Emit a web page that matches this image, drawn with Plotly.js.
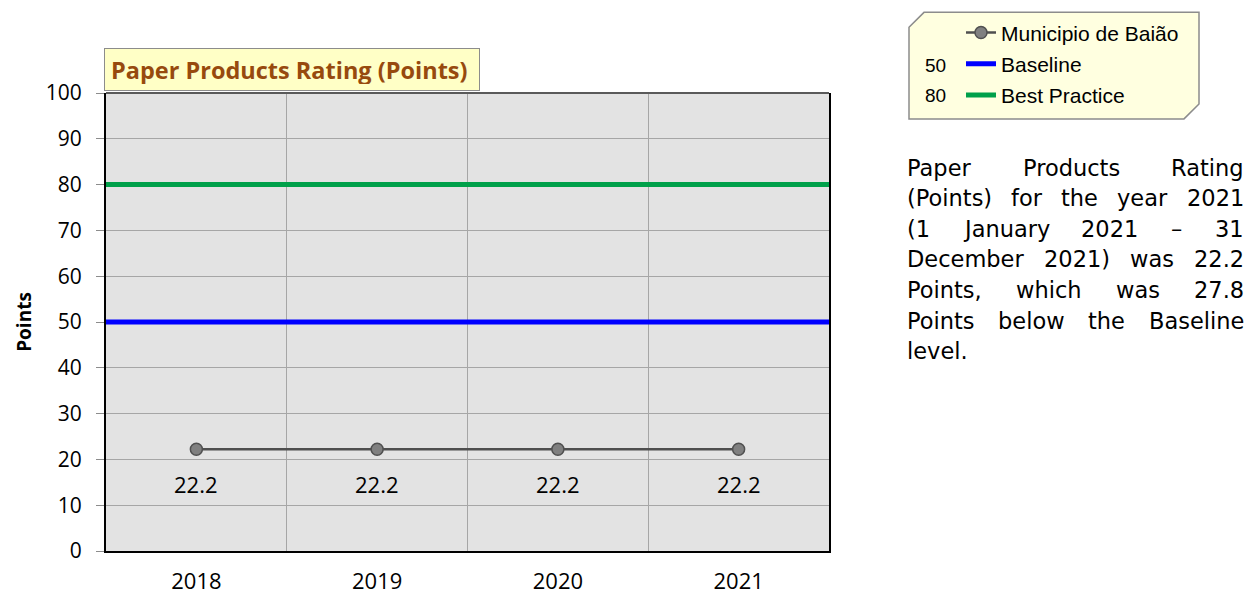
<!DOCTYPE html>
<html><head><meta charset="utf-8">
<script src="https://cdn.plot.ly/plotly-3.0.1.min.js"></script>
<style>html,body{margin:0;padding:0;background:#fff}#chart{width:1247px;height:596px}</style>
</head><body><div id="chart"></div>
<script>
// ---- data ----
const years = ['2018', '2019', '2020', '2021'];
const municipio = [22.2, 22.2, 22.2, 22.2];
const baseline = 50;
const bestPractice = 80;
const seriesName = 'Municipio de Baião';
const baselineName = 'Baseline';
const bestName = 'Best Practice';
const chartTitle = 'Paper Products Rating (Points)';
const yTickVals = [0, 10, 20, 30, 40, 50, 60, 70, 80, 90, 100];
const yTitle = 'Points';

const lastYear = years[years.length - 1];
const lastVal = municipio[municipio.length - 1];
const diff = (baseline - lastVal).toFixed(1);
const paragraphLines = [
  'Paper Products Rating',
  '(Points) for the year ' + lastYear,
  '(1 January ' + lastYear + ' – 31',
  'December ' + lastYear + ') was ' + lastVal.toFixed(1),
  'Points, which was ' + diff,
  'Points below the Baseline',
  'level.'
];

// ---- geometry helpers (layout only) ----
const L = 106, R = 829, T = 91, B = 551;
const px = x => (x - L) / (R - L);
const py = y => (B - y) / (B - T);
const idx = years.map((_, i) => i);
const xEnds = [-0.5, years.length - 0.5];

const traces = [
  {x: xEnds, y: [baseline, baseline], mode: 'lines', name: baselineName,
   line: {color: '#0000FF', width: 5}, legendrank: 2, legendgroup: 'b', hoverinfo: 'skip'},
  {x: xEnds, y: [bestPractice, bestPractice], mode: 'lines', name: bestName,
   line: {color: '#00A04A', width: 5}, legendrank: 3, legendgroup: 'c', hoverinfo: 'skip'},
  {x: idx, y: municipio, mode: 'lines+markers', name: seriesName,
   line: {color: '#4F4F4F', width: 2.5},
   marker: {size: 12, color: '#808080', line: {color: '#505050', width: 1.5}},
   legendrank: 1, legendgroup: 'a'}
];

const annotations = [];
// data labels
idx.forEach(i => annotations.push({
  x: i, y: municipio[i], xref: 'x', yref: 'y', text: municipio[i].toFixed(1),
  showarrow: false, yshift: -35, font: {family: 'Open Sans', size: 22, color: '#000'}
}));
// title box
annotations.push({
  xref: 'paper', yref: 'paper', x: px(104), y: py(46), xanchor: 'left', yanchor: 'top',
  text: '<b>' + chartTitle + '</b>', showarrow: false, align: 'left',
  font: {family: 'Open Sans', size: 23.5, color: '#974A0E'},
  bgcolor: '#FFFFC6', bordercolor: '#8C8C8C', borderwidth: 1, borderpad: 6, width: 362, height: 29
});
// legend numbers
[[String(baseline), 63], [String(bestPractice), 94]].forEach(([t, y]) => annotations.push({
  xref: 'paper', yref: 'paper', x: px(935), y: py(y), xanchor: 'center', yanchor: 'middle',
  text: t, showarrow: false, font: {family: 'Liberation Sans', size: 19, color: '#000'}
}));

// justified paragraph
const pFont = 22.5, pFam = 'DejaVu Sans';
const cv = document.createElement('canvas').getContext('2d');
cv.font = pFont + 'px "' + pFam + '"';
const pLeft = 906, pRight = 1243, pTop = 166, pStep = 30.7;
paragraphLines.forEach((line, li) => {
  const words = line.split(' ');
  const widths = words.map(w => cv.measureText(w).width);
  const total = widths.reduce((a, b) => a + b, 0);
  const last = li === paragraphLines.length - 1;
  const gap = (!last && words.length > 1) ? (pRight - pLeft - total) / (words.length - 1) : cv.measureText(' ').width;
  let xx = pLeft;
  words.forEach((w, wi) => {
    annotations.push({
      xref: 'paper', yref: 'paper', x: px(xx - 1), y: py(pTop + li * pStep),
      xanchor: 'left', yanchor: 'middle', text: w, showarrow: false,
      font: {family: pFam, size: pFont, color: '#000'}
    });
    xx += widths[wi] + gap;
  });
});

// legend box path with cut corners
const lx0 = 909, lx1 = 1199, ly0 = 10, ly1 = 117, c = 15;
const pts = [[lx0, ly0 + c], [lx0 + c, ly0], [lx1, ly0], [lx1, ly1 - c], [lx1 - c, ly1], [lx0, ly1]];
const path = 'M ' + pts.map(p => px(p[0]) + ',' + py(p[1])).join(' L ') + ' Z';

const shapes = [
  {type: 'path', xref: 'paper', yref: 'paper', path: path, fillcolor: '#FFFFE0',
   line: {color: '#8C8C8C', width: 1.5}, layer: 'below'},
  {type: 'line', xref: 'paper', yref: 'paper', x0: 0, x1: 1, y0: 1, y1: 1,
   line: {color: '#5A5A5A', width: 2}}
];

const layout = {
  width: 1247, height: 596,
  margin: {l: L, r: 1247 - R, t: T, b: 596 - B, pad: 0},
  paper_bgcolor: '#FFFFFF', plot_bgcolor: '#E3E3E3',
  showlegend: true,
  legend: {x: px(961), y: py(10), xanchor: 'left', yanchor: 'top',
    bgcolor: 'rgba(0,0,0,0)', borderwidth: 0, tracegroupgap: 1, traceorder: 'grouped',
    font: {family: 'Liberation Sans', size: 21, color: '#000'}},
  xaxis: {range: xEnds, tickmode: 'array', tickvals: idx, ticktext: years,
    showgrid: false, zeroline: false, ticks: '', ticklabelstandoff: 10,
    showline: true, linecolor: '#000', linewidth: 2,
    minor: {tick0: 0.5, dtick: 1, showgrid: true, gridcolor: '#A6A6A6', gridwidth: 1, ticks: ''},
    tickfont: {family: 'Open Sans', size: 22, color: '#000'}, fixedrange: true},
  yaxis: {range: [0, 100], tickmode: 'array', tickvals: yTickVals,
    showgrid: true, gridcolor: '#A6A6A6', gridwidth: 1, zeroline: false,
    ticks: 'outside', ticklen: 8, tickcolor: '#8C8C8C', tickwidth: 1, ticklabelstandoff: 10,
    showline: true, linecolor: '#000', linewidth: 2, mirror: true,
    tickfont: {family: 'Open Sans', size: 21, color: '#000'},
    title: {text: '<b>' + yTitle + '</b>', standoff: 9, font: {family: 'Open Sans', size: 19, color: '#000'}},
    fixedrange: true},
  annotations: annotations,
  shapes: shapes,
  hovermode: false
};

Plotly.newPlot('chart', traces, layout, {displayModeBar: false, staticPlot: true});
</script></body></html>
